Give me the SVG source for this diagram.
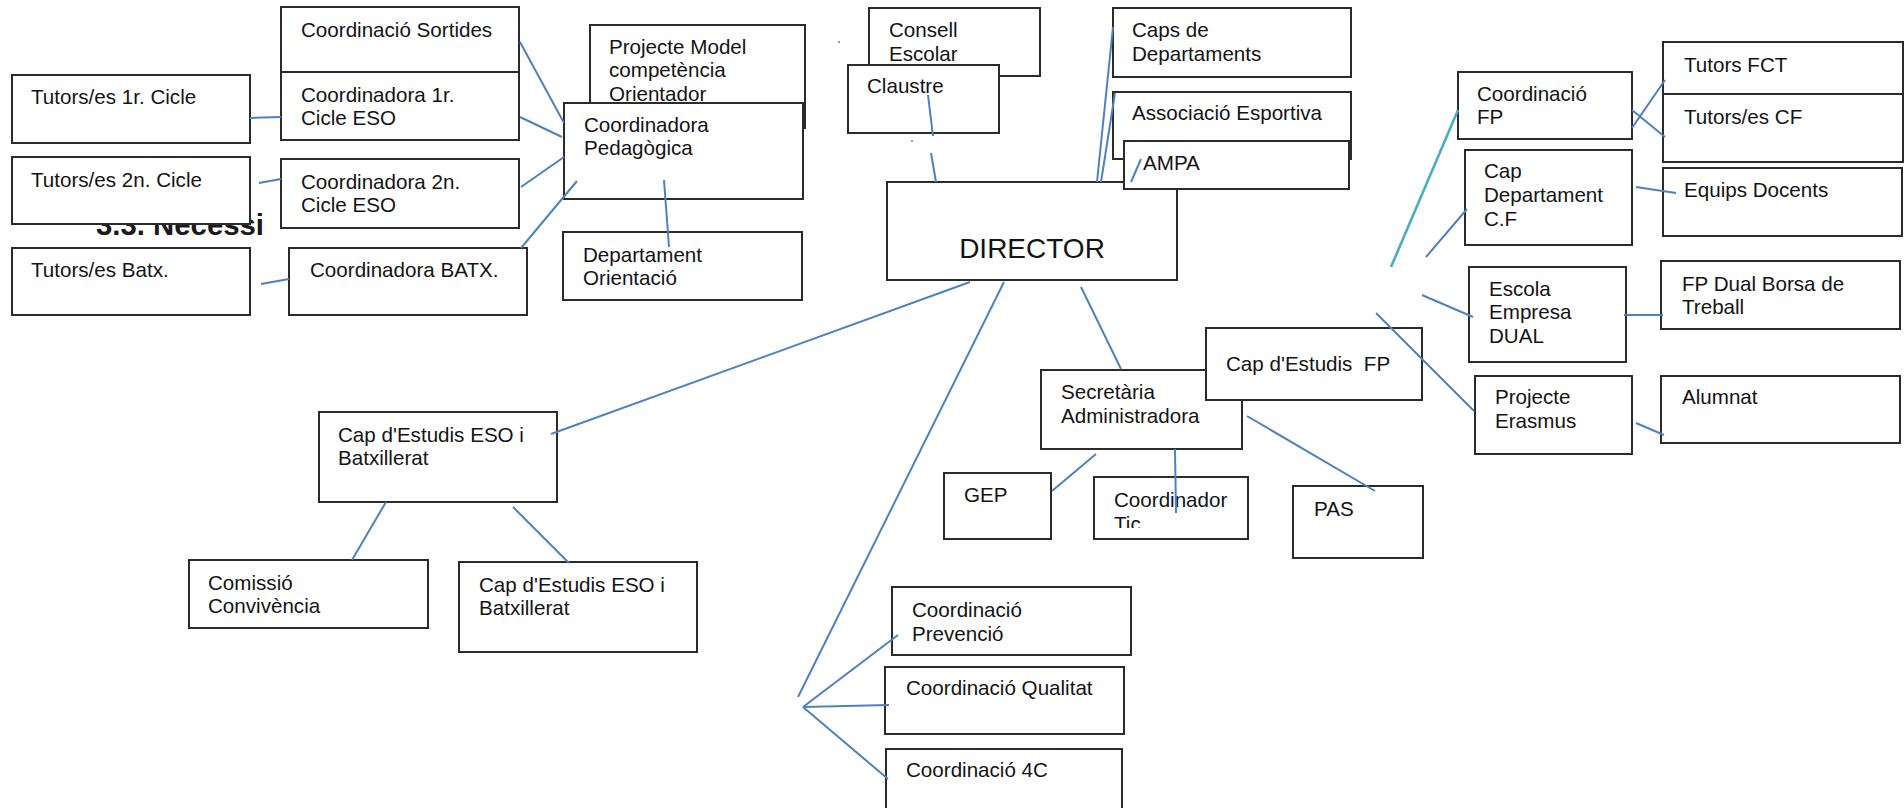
<svg xmlns="http://www.w3.org/2000/svg" width="1904" height="808" viewBox="0 0 1904 808">
<style>
rect.b{fill:#fff;stroke:#2b2b2b;stroke-width:2}
text{font-family:"Liberation Sans",Arial,sans-serif;font-size:20.6px;fill:#141414}
text.big{font-size:28px}
text.hd{font-weight:bold;font-size:29px;fill:#1a1a1a}
#connectors line{stroke:#4f81bd;stroke-width:2;fill:none}
#connectors line.teal{stroke:#4bacc6;stroke-width:2.6}
</style>
<defs>
<clipPath id="ticClip"><rect x="1094" y="477" width="154" height="51"/></clipPath>
</defs>
<rect x="0" y="0" width="1904" height="808" fill="#fff"/>

<g id="heading"><text class="hd" x="96" y="235" textLength="168" lengthAdjust="spacingAndGlyphs">3.3. Necessi</text></g>

<g id="sortides"><rect class="b" x="281" y="7" width="238" height="65"/><text x="301" y="37">Coordinació Sortides</text></g>
<g id="coord1r"><rect class="b" x="281" y="72" width="238" height="68"/><text x="301" y="102">Coordinadora 1r.</text><text x="301" y="125">Cicle ESO</text></g>
<g id="tutors1r"><rect class="b" x="12" y="75" width="238" height="68"/><text x="31" y="104">Tutors/es 1r. Cicle</text></g>
<g id="tutors2n"><rect class="b" x="12" y="157" width="238" height="67"/><text x="31" y="187">Tutors/es 2n. Cicle</text></g>
<g id="coord2n"><rect class="b" x="281" y="159" width="238" height="69"/><text x="301" y="189">Coordinadora 2n.</text><text x="301" y="212">Cicle ESO</text></g>
<g id="tutorsBatx"><rect class="b" x="12" y="248" width="238" height="67"/><text x="31" y="277">Tutors/es Batx.</text></g>
<g id="coordBatx"><rect class="b" x="289" y="248" width="238" height="67"/><text x="310" y="277">Coordinadora BATX.</text></g>
<g id="projecte"><rect class="b" x="590" y="25" width="215" height="103"/><text x="609" y="54">Projecte Model</text><text x="609" y="77">competència</text><text x="609" y="101">Orientador</text></g>
<g id="pedagogica"><rect class="b" x="564" y="103" width="239" height="96"/><text x="584" y="132">Coordinadora</text><text x="584" y="155">Pedagògica</text></g>
<g id="deptOrientacio"><rect class="b" x="563" y="232" width="239" height="68"/><text x="583" y="262">Departament</text><text x="583" y="285">Orientació</text></g>

<g id="consell"><rect class="b" x="869" y="8" width="171" height="68"/><text x="889" y="37">Consell</text><text x="889" y="61">Escolar</text></g>
<g id="claustre"><rect class="b" x="848" y="65" width="151" height="68"/><text x="867" y="93">Claustre</text></g>
<g id="director"><rect class="b" x="887" y="182" width="290" height="98"/><text class="big" x="1032" y="258" text-anchor="middle">DIRECTOR</text></g>
<g id="caps"><rect class="b" x="1113" y="8" width="238" height="69"/><text x="1132" y="37">Caps de</text><text x="1132" y="61">Departaments</text></g>
<g id="associacio"><rect class="b" x="1113" y="92" width="238" height="67"/><text x="1132" y="120">Associació Esportiva</text></g>
<g id="ampa"><rect class="b" x="1124" y="141" width="225" height="48"/><text x="1143" y="170">AMPA</text></g>

<g id="coordFP"><rect class="b" x="1458" y="72" width="174" height="67"/><text x="1477" y="101">Coordinació</text><text x="1477" y="124">FP</text></g>
<g id="tutorsFCT"><rect class="b" x="1663" y="42" width="240" height="52"/><text x="1684" y="72">Tutors FCT</text></g>
<g id="tutorsCF"><rect class="b" x="1663" y="94" width="240" height="68"/><text x="1684" y="124">Tutors/es CF</text></g>
<g id="capDeptCF"><rect class="b" x="1465" y="150" width="167" height="95"/><text x="1484" y="178">Cap</text><text x="1484" y="202">Departament</text><text x="1484" y="226">C.F</text></g>
<g id="equips"><rect class="b" x="1663" y="168" width="239" height="68"/><text x="1684" y="197">Equips Docents</text></g>
<g id="escola"><rect class="b" x="1469" y="267" width="157" height="95"/><text x="1489" y="296">Escola</text><text x="1489" y="319">Empresa</text><text x="1489" y="343">DUAL</text></g>
<g id="fpDual"><rect class="b" x="1661" y="261" width="239" height="68"/><text x="1682" y="291">FP Dual Borsa de</text><text x="1682" y="314">Treball</text></g>
<g id="erasmus"><rect class="b" x="1475" y="376" width="157" height="78"/><text x="1495" y="404">Projecte</text><text x="1495" y="428">Erasmus</text></g>
<g id="alumnat"><rect class="b" x="1661" y="376" width="239" height="67"/><text x="1682" y="404">Alumnat</text></g>

<g id="secretaria"><rect class="b" x="1041" y="370" width="201" height="79"/><text x="1061" y="399">Secretària</text><text x="1061" y="423">Administradora</text></g>
<g id="capFP"><rect class="b" x="1206" y="328" width="216" height="72"/><text x="1226" y="371" xml:space="preserve">Cap d'Estudis  FP</text></g>
<g id="gep"><rect class="b" x="944" y="473" width="107" height="66"/><text x="964" y="502">GEP</text></g>
<g id="tic"><rect class="b" x="1094" y="477" width="154" height="62"/><g clip-path="url(#ticClip)"><text x="1114" y="507">Coordinador</text><text x="1114" y="531">Tic</text></g></g>
<g id="pas"><rect class="b" x="1293" y="486" width="130" height="72"/><text x="1314" y="516">PAS</text></g>

<g id="capESO1"><rect class="b" x="319" y="412" width="238" height="90"/><text x="338" y="442">Cap d'Estudis ESO i</text><text x="338" y="465">Batxillerat</text></g>
<g id="comissio"><rect class="b" x="189" y="560" width="239" height="68"/><text x="208" y="590">Comissió</text><text x="208" y="613">Convivència</text></g>
<g id="capESO2"><rect class="b" x="459" y="562" width="238" height="90"/><text x="479" y="592">Cap d'Estudis ESO i</text><text x="479" y="615">Batxillerat</text></g>

<g id="prevencio"><rect class="b" x="892" y="587" width="239" height="68"/><text x="912" y="617">Coordinació</text><text x="912" y="641">Prevenció</text></g>
<g id="qualitat"><rect class="b" x="885" y="667" width="239" height="67"/><text x="906" y="695">Coordinació Qualitat</text></g>
<g id="c4"><rect class="b" x="886" y="749" width="236" height="72"/><text x="906" y="777">Coordinació 4C</text></g>

<g id="connectors">
<line x1="250" y1="118" x2="281" y2="117"/>
<line x1="259" y1="183" x2="281" y2="179"/>
<line x1="261" y1="284" x2="289" y2="279"/>
<line x1="520" y1="42" x2="564" y2="123"/>
<line x1="520" y1="117" x2="562" y2="137"/>
<line x1="521" y1="187" x2="564" y2="157"/>
<line x1="521" y1="248" x2="577" y2="181"/>
<line x1="664" y1="180" x2="669" y2="247"/>
<line x1="928" y1="95" x2="933" y2="136"/>
<line x1="931" y1="153" x2="936" y2="182"/>
<line x1="1097" y1="182" x2="1113" y2="27"/>
<line x1="1101" y1="182" x2="1115" y2="93"/>
<line x1="1131" y1="182" x2="1141" y2="159"/>
<line x1="970" y1="282" x2="551" y2="434"/>
<line x1="386" y1="502" x2="352" y2="560"/>
<line x1="513" y1="507" x2="569" y2="563"/>
<line x1="1004" y1="282" x2="798" y2="697"/>
<line x1="803" y1="707" x2="898" y2="635"/>
<line x1="803" y1="707" x2="889" y2="705"/>
<line x1="803" y1="707" x2="888" y2="779"/>
<line x1="1081" y1="287" x2="1121" y2="369"/>
<line x1="1096" y1="454" x2="1052" y2="491"/>
<line x1="1175" y1="449" x2="1176" y2="513"/>
<line x1="1247" y1="416" x2="1375" y2="491"/>
<line class="teal" x1="1391" y1="267" x2="1458" y2="110"/>
<line x1="1426" y1="257" x2="1467" y2="209"/>
<line x1="1422" y1="295" x2="1473" y2="317"/>
<line x1="1376" y1="313" x2="1474" y2="411"/>
<line x1="1632" y1="128" x2="1665" y2="80"/>
<line x1="1632" y1="110" x2="1665" y2="137"/>
<line x1="1636" y1="187" x2="1676" y2="193"/>
<line x1="1624" y1="315" x2="1663" y2="315"/>
<line x1="1636" y1="423" x2="1664" y2="435"/>
</g>
<g id="specks" fill="#4f81bd"><circle cx="839" cy="42" r="1"/><circle cx="912" cy="141" r="1"/></g>
</svg>
